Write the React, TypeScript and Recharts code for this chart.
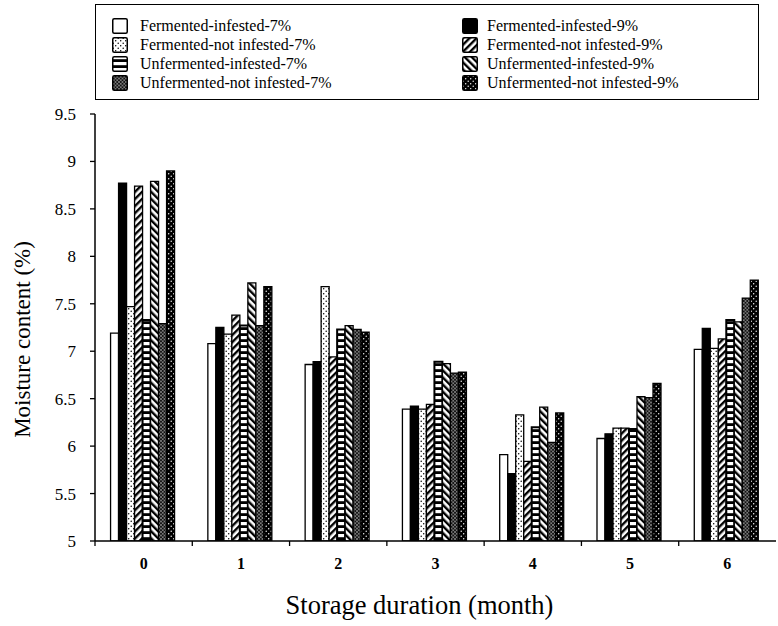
import { BarChart, Bar, XAxis, YAxis } from 'recharts'

const months = ['0', '1', '2', '3', '4', '5', '6']

const fermInf7 = [7.19, 7.08, 6.86, 6.39, 5.91, 6.08, 7.02]
const fermInf9 = [8.77, 7.25, 6.89, 6.42, 5.71, 6.13, 7.24]
const fermNot7 = [7.47, 7.18, 7.68, 6.39, 6.33, 6.19, 7.03]
const fermNot9 = [8.74, 7.38, 6.94, 6.44, 5.84, 6.19, 7.13]
const unfInf7 = [7.33, 7.27, 7.23, 6.89, 6.2, 6.18, 7.33]
const unfInf9 = [8.79, 7.72, 7.27, 6.87, 6.41, 6.52, 7.31]
const unfNot7 = [7.29, 7.27, 7.23, 6.77, 6.04, 6.51, 7.56]
const unfNot9 = [8.9, 7.68, 7.2, 6.78, 6.35, 6.66, 7.75]

const yTicks = [5, 5.5, 6, 6.5, 7, 7.5, 8, 8.5, 9, 9.5]

const series = [
  { key: 'fi7', name: 'Fermented-infested-7%', values: fermInf7, pat: 'white' },
  { key: 'fi9', name: 'Fermented-infested-9%', values: fermInf9, pat: 'black' },
  { key: 'fn7', name: 'Fermented-not infested-7%', values: fermNot7, pat: 'dots' },
  { key: 'fn9', name: 'Fermented-not infested-9%', values: fermNot9, pat: 'diag' },
  { key: 'ui7', name: 'Unfermented-infested-7%', values: unfInf7, pat: 'horiz' },
  { key: 'ui9', name: 'Unfermented-infested-9%', values: unfInf9, pat: 'back' },
  { key: 'un7', name: 'Unfermented-not infested-7%', values: unfNot7, pat: 'cross' },
  { key: 'un9', name: 'Unfermented-not infested-9%', values: unfNot9, pat: 'darkdots' },
]

const data = months.map((m, i) => {
  const row: Record<string, string | number> = { month: m }
  series.forEach((s) => {
    row[s.key] = s.values[i]
  })
  return row
})

const serif = "'Liberation Serif', 'Times New Roman', serif"

function Patterns({ p }: { p: string }) {
  return (
    <defs>
      <pattern id={p + 'dots'} width="5" height="5" patternUnits="userSpaceOnUse">
        <rect width="5" height="5" fill="#fff" />
        <circle cx="1.2" cy="1.2" r="0.75" fill="#000" />
        <circle cx="3.7" cy="3.7" r="0.75" fill="#000" />
      </pattern>
      <pattern id={p + 'diag'} width="5" height="5" patternUnits="userSpaceOnUse" patternTransform="rotate(45)">
        <rect width="5" height="5" fill="#fff" />
        <rect width="2.4" height="5" fill="#000" />
      </pattern>
      <pattern id={p + 'back'} width="5" height="5" patternUnits="userSpaceOnUse" patternTransform="rotate(-45)">
        <rect width="5" height="5" fill="#fff" />
        <rect width="2.4" height="5" fill="#000" />
      </pattern>
      <pattern id={p + 'horiz'} width="6" height="6" patternUnits="userSpaceOnUse">
        <rect width="6" height="6" fill="#000" />
        <rect y="0" width="6" height="3.2" fill="#fff" />
      </pattern>
      <pattern id={p + 'cross'} width="3.5" height="3.5" patternUnits="userSpaceOnUse">
        <rect width="3.5" height="3.5" fill="#111" />
        <path d="M0 0 L3.5 3.5 M3.5 0 L0 3.5" stroke="#aaa" strokeWidth="0.6" />
      </pattern>
      <pattern id={p + 'darkdots'} width="5" height="5" patternUnits="userSpaceOnUse">
        <rect width="5" height="5" fill="#000" />
        <circle cx="1.2" cy="1.2" r="0.7" fill="#fff" />
        <circle cx="3.7" cy="3.7" r="0.7" fill="#fff" />
      </pattern>
    </defs>
  )
}

function fillFor(pat: string, p: string) {
  if (pat === 'white') return '#fff'
  if (pat === 'black') return '#000'
  return `url(#${p}${pat})`
}

// ticks sit between the months, so the mark is drawn half a band to the left
function MonthTick(props: any) {
  const { x, y, payload } = props
  const half = payload && payload.offset ? payload.offset : 0
  const axisY = y - 17
  return (
    <g>
      <line x1={x - half} x2={x - half} y1={axisY} y2={axisY + 5} stroke="#000" strokeWidth={1.3} />
      <text x={x} y={y} dy="0.71em" textAnchor="middle" fontFamily={serif} fontSize={16} fontWeight="bold" fill="#000">
        {payload.value}
      </text>
    </g>
  )
}

function YTitle(props: any) {
  const vb = props.viewBox || { x: 0, y: 114, width: 95, height: 427 }
  const cx = vb.x + 22
  const cy = vb.y + vb.height / 2 + 12
  return (
    <text x={cx} y={cy} transform={`rotate(-90 ${cx} ${cy})`} textAnchor="middle" dominantBaseline="central" fontFamily={serif} fontSize={23} fill="#000">
      Moisture content (%)
    </text>
  )
}

function XTitle(props: any) {
  const vb = props.viewBox || { x: 95, y: 541, width: 681, height: 60 }
  const cx = vb.x + vb.width / 2 - 16
  const cy = vb.y + 64
  return (
    <text x={cx} y={cy} textAnchor="middle" dominantBaseline="central" fontFamily={serif} fontSize={26.5} fill="#000">
      Storage duration (month)
    </text>
  )
}

function Swatch({ pat, id }: { pat: string; id: string }) {
  return (
    <svg width={16} height={16} style={{ display: 'block' }}>
      <Patterns p={id} />
      <rect x={0.75} y={0.75} width={14.5} height={14.5} rx={1.5} fill={fillFor(pat, id)} stroke="#000" strokeWidth={1.5} />
    </svg>
  )
}

function LegendBox() {
  const left = series.filter((_, i) => i % 2 === 0)
  const right = series.filter((_, i) => i % 2 === 1)
  const col = (items: typeof series, swX: number, txtX: number) =>
    items.map((s, r) => (
      <div key={s.key} style={{ position: 'absolute', top: 13 + r * 19, left: 0, height: 16 }}>
        <div style={{ position: 'absolute', left: swX, top: 0 }}>
          <Swatch pat={s.pat} id={'lg' + s.key} />
        </div>
        <div style={{ position: 'absolute', left: txtX, top: -1, whiteSpace: 'nowrap', fontFamily: serif, fontSize: 16, lineHeight: '18px', color: '#000' }}>
          {s.name}
        </div>
      </div>
    ))
  return (
    <div style={{ position: 'absolute', left: 95, top: 4, width: 664, height: 96, border: '1.5px solid #000', boxSizing: 'border-box' }}>
      {col(left, 16, 44)}
      {col(right, 366, 391)}
    </div>
  )
}

export default function App() {
  return (
    <div style={{ position: 'absolute', left: 0, top: 0, width: 778, height: 626, background: '#fff' }}>
      <BarChart
        width={778}
        height={626}
        data={data}
        margin={{ top: 114, right: 2, left: 0, bottom: 25 }}
        barCategoryGap="16%"
        barGap={0}
      >
        <Patterns p="c" />
        <XAxis
          dataKey="month"
          height={60}
          tickLine={false}
          tickSize={5}
          tickMargin={12}
          tick={<MonthTick />}
          axisLine={{ stroke: '#000', strokeWidth: 1.5 }}
          label={<XTitle />}
        />
        <XAxis xAxisId="top" dataKey="month" orientation="top" height={0} tick={false} tickLine={false} axisLine={{ stroke: '#000', strokeWidth: 1.5 }} />
        <YAxis
          domain={[5, 9.5]}
          ticks={yTicks}
          allowDataOverflow
          width={95}
          tickSize={5}
          tickMargin={14}
          tickLine={{ stroke: '#000', strokeWidth: 1.3 }}
          axisLine={{ stroke: '#000', strokeWidth: 1.5 }}
          tick={{ fontFamily: serif, fontSize: 17, fill: '#000' }}
          label={<YTitle />}
        />
        <YAxis yAxisId="right" orientation="right" domain={[5, 9.5]} width={0} tick={false} tickLine={false} axisLine={{ stroke: '#000', strokeWidth: 1.5 }} />
        {series.map((s) => (
          <Bar
            key={s.key}
            dataKey={s.key}
            name={s.name}
            fill={fillFor(s.pat, 'c')}
            stroke="#000"
            strokeWidth={s.pat === 'horiz' ? 2 : 1.3}
            isAnimationActive={false}
          />
        ))}
      </BarChart>
      <LegendBox />
    </div>
  )
}
